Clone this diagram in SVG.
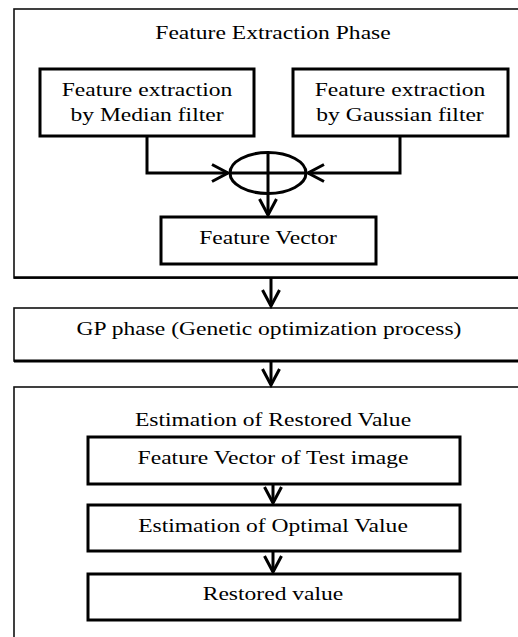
<svg xmlns="http://www.w3.org/2000/svg" width="518" height="637" viewBox="0 0 518 637">
  <style>
    .lbl { font-size: 19px; fill: #000; text-anchor: middle; }
    .box { fill: #fff; stroke: #000; stroke-width: 3; }
    .frame { fill: #fff; stroke: #111; stroke-width: 1.6; }
    .edge { fill: none; stroke: #000; stroke-width: 3; }
  </style>
  <defs>
    <marker id="chev" markerUnits="userSpaceOnUse" markerWidth="24" markerHeight="24" viewBox="-20 -12 24 24" refX="0" refY="0" orient="auto">
      <path d="M-16,-8.5 L0,0 L-16,8.5" fill="none" stroke="#000" stroke-width="3"/>
    </marker>
  </defs>
  <rect width="518" height="637" fill="#fff"/>

  <g font-family="Liberation Serif, serif">
  <!-- phase frames -->
  <g id="feature-extraction-phase">
    <rect class="frame" x="14" y="9" width="520" height="269"/>
    <line x1="14" y1="277.5" x2="518" y2="277.5" stroke="#000" stroke-width="2.5"/>
    <text class="lbl" transform="translate(273,39) scale(1.24,1)">Feature Extraction Phase</text>
  </g>
  <g id="gp-phase">
    <rect class="frame" x="14" y="308" width="520" height="53" stroke-width="2.2"/>
    <line x1="14" y1="361" x2="518" y2="361" stroke="#000" stroke-width="2.8"/>
    <text class="lbl" transform="translate(269,335) scale(1.24,1)">GP phase (Genetic optimization process)</text>
  </g>
  <g id="restoration-phase">
    <rect class="frame" x="14" y="387" width="520" height="260" stroke-width="2"/>
    <text class="lbl" transform="translate(273,426) scale(1.24,1)">Estimation of Restored Value</text>
  </g>

  <!-- nodes -->
  <g id="median">
    <rect class="box" x="40" y="69" width="214" height="67"/>
    <text class="lbl" transform="translate(147,96) scale(1.24,1)">Feature extraction</text>
    <text class="lbl" transform="translate(147,121) scale(1.24,1)">by Median filter</text>
  </g>
  <g id="gaussian">
    <rect class="box" x="293" y="69" width="215" height="67"/>
    <text class="lbl" transform="translate(400,96) scale(1.24,1)">Feature extraction</text>
    <text class="lbl" transform="translate(400,121) scale(1.24,1)">by Gaussian filter</text>
  </g>
  <g id="sum">
    <ellipse cx="268" cy="173" rx="38" ry="20.5" fill="#fff" stroke="#000" stroke-width="3"/>
    <line x1="230" y1="173" x2="306" y2="173" stroke="#000" stroke-width="3"/>
    <line x1="268" y1="152.5" x2="268" y2="193.5" stroke="#000" stroke-width="3"/>
  </g>
  <g id="feature-vector">
    <rect class="box" x="161" y="217" width="215" height="47"/>
    <text class="lbl" transform="translate(268,244) scale(1.24,1)">Feature Vector</text>
  </g>
  <g id="test-vector">
    <rect class="box" x="88" y="437" width="372" height="47"/>
    <text class="lbl" transform="translate(273,464) scale(1.24,1)">Feature Vector of Test image</text>
  </g>
  <g id="optimal">
    <rect class="box" x="88" y="505" width="372" height="46"/>
    <text class="lbl" transform="translate(273,532) scale(1.24,1)">Estimation of Optimal Value</text>
  </g>
  <g id="restored">
    <rect class="box" x="88" y="574" width="372" height="46"/>
    <text class="lbl" transform="translate(273,600) scale(1.24,1)">Restored value</text>
  </g>
  </g>

  <!-- connectors -->
  <g id="connectors">
    <path class="edge" d="M147,136 V173 H228" marker-end="url(#chev)"/>
    <path class="edge" d="M400,136 V173 H308" marker-end="url(#chev)"/>
    <path class="edge" d="M268,193.5 V215" marker-end="url(#chev)"/>
    <path class="edge" d="M271,278 V306" marker-end="url(#chev)"/>
    <path class="edge" d="M271,362 V385" marker-end="url(#chev)"/>
    <path class="edge" d="M273,485 V503" marker-end="url(#chev)"/>
    <path class="edge" d="M273,552 V572" marker-end="url(#chev)"/>
  </g>
</svg>
